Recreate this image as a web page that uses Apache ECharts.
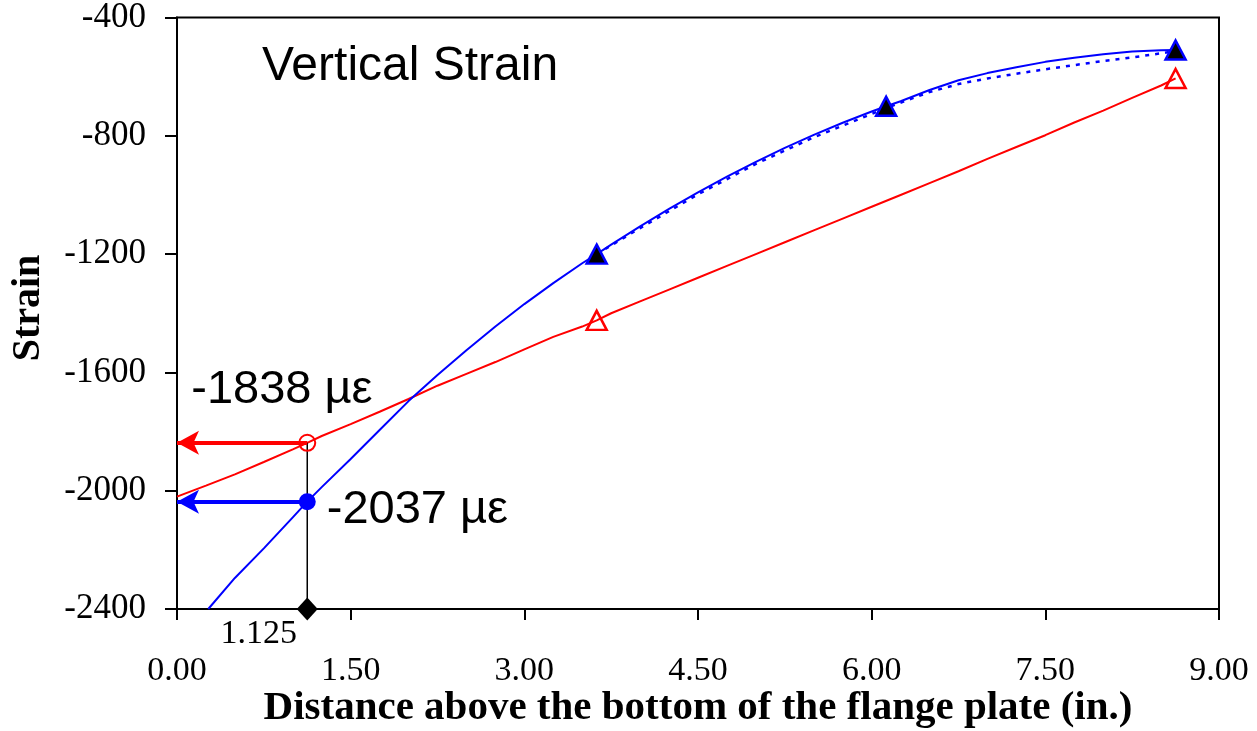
<!DOCTYPE html>
<html>
<head>
<meta charset="utf-8">
<script src="https://cdn.jsdelivr.net/npm/echarts@6/dist/echarts.min.js"></script>
<style>
html,body{margin:0;padding:0;background:#fff;}
#chart{width:1257px;height:731px;}
</style>
</head>
<body>
<div id="chart"></div>
<script>
// ---- data ----
const distRed   = [0, 0.25, 0.5, 0.75, 1.0, 1.125, 1.25, 1.5, 1.75, 2.0, 2.25, 2.5, 2.75, 3.0, 3.25, 3.5, 3.625, 3.75, 4.0, 4.25, 4.5, 4.75, 5.0, 5.25, 5.5, 5.75, 6.0, 6.25, 6.5, 6.75, 7.0, 7.25, 7.5, 7.75, 8.0, 8.25, 8.5, 8.625];
const strainRed = [-2020, -1983, -1945, -1903, -1860, -1838, -1815, -1775, -1733, -1690, -1645, -1605, -1565, -1522, -1480, -1445, -1424, -1400, -1360, -1320, -1280, -1240, -1200, -1160, -1120, -1080, -1040, -1000, -960, -920, -878, -838, -798, -755, -715, -672, -630, -606];

const distBlue   = [0.27, 0.5, 0.75, 1.0, 1.125, 1.25, 1.5, 1.75, 2.0, 2.25, 2.5, 2.75, 3.0, 3.25, 3.5, 3.625, 3.75, 4.0, 4.25, 4.5, 4.75, 5.0, 5.25, 5.5, 5.75, 6.0, 6.125, 6.25, 6.5, 6.75, 7.0, 7.25, 7.5, 7.75, 8.0, 8.25, 8.5, 8.625];
const strainBlue = [-2400, -2295, -2195, -2090, -2037, -1988, -1893, -1795, -1697, -1609, -1525, -1445, -1369, -1298, -1231, -1200, -1168, -1106, -1047, -991, -938, -888, -841, -797, -756, -718, -700, -683, -645, -612, -588, -568, -550, -536, -524, -515, -511, -510];

const distFit   = [3.625, 4.0, 4.5, 5.0, 5.5, 6.0, 6.125, 6.5, 6.75, 7.0, 7.25, 7.5, 7.75, 8.0, 8.25, 8.5, 8.625];
const strainFit = [-1200, -1112, -998, -895, -805, -726, -706, -652, -625, -606, -590, -575, -561, -547, -535, -521, -513];

const gaugeDistBlue = [3.625, 6.125, 8.625];
const gaugeBlue     = [-1200, -700, -510];
const gaugeDistRed  = [3.625, 8.625];
const gaugeRed      = [-1424, -606];

const readDist = 1.125;
const readRed  = -1838;
const readBlue = -2037;

const xMin = 0, xMax = 9, xStep = 1.5;
const yMin = -2400, yMax = -400, yStep = 400;

const titleText = 'Vertical Strain';
const xTitle = 'Distance above the bottom of the flange plate (in.)';
const yTitle = 'Strain';
const unit = 'µε';

const zip = (a, b) => a.map((v, i) => [v, b[i]]);

const SERIF = '"Liberation Serif","Times New Roman",serif';
const SANS = '"Liberation Sans",Arial,sans-serif';

const chart = echarts.init(document.getElementById('chart'), null, {renderer: 'canvas'});

const option = {
  animation: false,
  backgroundColor: '#fff',
  grid: {left: 177, right: 38, top: 17, bottom: 122, show: true, borderColor: '#000', borderWidth: 2, backgroundColor: 'transparent'},
  xAxis: {
    type: 'value', min: xMin, max: xMax, interval: xStep,
    axisLine: {show: true, onZero: false, lineStyle: {color: '#000', width: 2}},
    axisTick: {show: true, inside: false, length: 11, lineStyle: {color: '#000', width: 2}},
    splitLine: {show: false},
    axisLabel: {margin: 45, color: '#000', fontFamily: SERIF, fontSize: 34, formatter: v => v.toFixed(2)}
  },
  yAxis: {
    type: 'value', min: yMin, max: yMax, interval: yStep,
    axisLine: {show: true, onZero: false, lineStyle: {color: '#000', width: 2}},
    axisTick: {show: true, inside: false, length: 12, lineStyle: {color: '#000', width: 2}},
    splitLine: {show: false},
    axisLabel: {margin: 31, color: '#000', fontFamily: SERIF, fontSize: 35, formatter: v => String(v)}
  },
  graphic: [
    {type: 'text', left: 262, top: 43, style: {text: titleText, font: '48px ' + SANS, fill: '#000'}},
    {type: 'text', x: 698, y: 708, style: {text: xTitle, font: 'bold 41px ' + SERIF, fill: '#000', textAlign: 'center', textVerticalAlign: 'middle'}},
    {type: 'text', x: 29, y: 308, rotation: Math.PI / 2, style: {text: yTitle, font: 'bold 40px ' + SERIF, fill: '#000', textAlign: 'center', textVerticalAlign: 'middle'}}
  ],
  series: [
    {
      type: 'line', name: 'fit', data: zip(distFit, strainFit), showSymbol: false, smooth: false,
      lineStyle: {color: '#0000ff', width: 2.5, type: [4, 6]}, z: 2
    },
    {
      type: 'line', name: 'red', data: zip(distRed, strainRed), showSymbol: false,
      lineStyle: {color: '#ff0000', width: 2}, z: 3
    },
    {
      type: 'line', name: 'blue', data: zip(distBlue, strainBlue), showSymbol: false,
      lineStyle: {color: '#0000ff', width: 2}, z: 3
    },
    {
      type: 'line', name: 'drop', data: [[readDist, readRed], [readDist, yMin]], showSymbol: false,
      lineStyle: {color: '#000', width: 1.5}, z: 4, clip: false,
      markLine: {
        silent: true, symbol: ['none', 'arrow'], symbolSize: [18, 22], animation: false,
        label: {show: false},
        data: [
          [{coord: [readDist, readRed], lineStyle: {color: '#ff0000', width: 4, type: 'solid'}, itemStyle: {color: '#ff0000'}}, {coord: [xMin, readRed]}],
          [{coord: [readDist, readBlue], lineStyle: {color: '#0000ff', width: 4, type: 'solid'}, itemStyle: {color: '#0000ff'}}, {coord: [xMin, readBlue]}]
        ]
      }
    },
    {
      type: 'scatter', name: 'gaugeRed', data: zip(gaugeDistRed, gaugeRed), symbol: 'triangle', symbolSize: [20, 19],
      itemStyle: {color: 'rgba(255,255,255,0)', borderColor: '#ff0000', borderWidth: 2.5, opacity: 1}, z: 5
    },
    {
      type: 'scatter', name: 'gaugeBlue', data: zip(gaugeDistBlue, gaugeBlue), symbol: 'triangle', symbolSize: [20, 19],
      itemStyle: {color: '#000', borderColor: '#0000ff', borderWidth: 2.5, opacity: 1}, z: 5
    },
    {
      type: 'scatter', name: 'readRed', data: [[readDist, readRed]], symbol: 'circle', symbolSize: 16, clip: false,
      itemStyle: {color: 'rgba(255,255,255,0)', borderColor: '#ff0000', borderWidth: 2, opacity: 1}, z: 6,
      label: {show: true, position: [-107, -44], align: 'left', verticalAlign: 'middle', formatter: p => p.value[1] + ' ' + unit,
        fontFamily: SANS, fontSize: 47, color: '#000'}
    },
    {
      type: 'scatter', name: 'readBlue', data: [[readDist, readBlue]], symbol: 'circle', symbolSize: 17, clip: false,
      itemStyle: {color: '#0000ff', opacity: 1}, z: 6,
      label: {show: true, position: [28, 17], align: 'left', verticalAlign: 'middle', formatter: p => p.value[1] + ' ' + unit,
        fontFamily: SANS, fontSize: 47, color: '#000'}
    },
    {
      type: 'scatter', name: 'readDist', data: [[readDist, yMin]], symbol: 'diamond', symbolSize: [21, 23], clip: false,
      itemStyle: {color: '#000', opacity: 1}, z: 6,
      label: {show: true, position: [-38, 37], align: 'center', verticalAlign: 'middle', formatter: p => String(p.value[0]),
        fontFamily: SERIF, fontSize: 34, color: '#000'}
    }
  ]
};
chart.setOption(option);
</script>
</body>
</html>
